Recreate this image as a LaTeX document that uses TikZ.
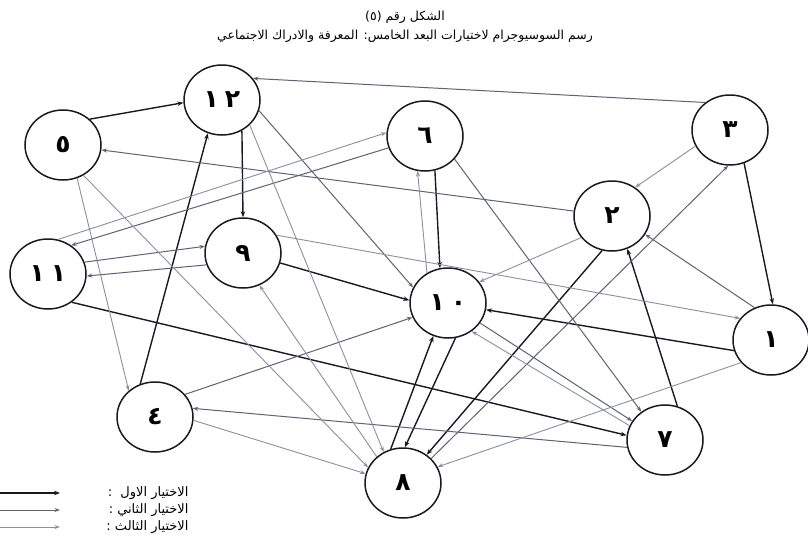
\documentclass[tikz,border=0pt]{standalone}
\usepackage{fontspec}
\TeXXeTstate=1
\newfontfamily\arabicfont[Script=Arabic]{DejaVu Sans}
\usetikzlibrary{arrows.meta,shapes.geometric}
\definecolor{inkfirst}{RGB}{25,25,35}
\definecolor{inksecond}{RGB}{95,98,115}
\definecolor{inkthird}{RGB}{140,143,160}
\tikzset{
 person/.style={ellipse, draw=inkfirst, line width=1.5pt, minimum width=76pt, minimum height=70pt, inner sep=0pt, font=\arabicfont\bfseries\fontsize{25}{25}\selectfont},
 firstch/.style={draw=inkfirst, line width=1.4pt, -{Stealth[length=6pt,width=4.5pt]}},
 secondch/.style={draw=inksecond, line width=1.0pt, -{Stealth[length=5.5pt,width=4pt]}},
 thirdch/.style={draw=inkthird, line width=0.9pt, -{Stealth[length=5.5pt,width=4pt]}},
 titletext/.style={font=\arabicfont\fontsize{12.5}{14}\selectfont},
 legendtext/.style={font=\arabicfont\fontsize{13}{15}\selectfont, anchor=east},
}
\begin{document}
\begin{tikzpicture}[x=1pt,y=-1pt]
\useasboundingbox[fill=white] (0,0) rectangle (808,554);
% titles
\node[titletext] (t1) at (405,17) {\beginR الشكل رقم \beginL(٥)\endL\endR};
\node[titletext] (t2) at (405,36) {\beginR رسم السوسيوجرام لاختيارات البعد الخامس: المعرفة والادراك الاجتماعي\endR};
% persons
\node[person] (n12) at (222,100) {١\kern6pt٢};
\node[person] (n5) at (63,145) {٥};
\node[person] (n6) at (425,136) {٦};
\node[person] (n3) at (730,130) {٣};
\node[person] (n2) at (612,216) {٢};
\node[person] (n9) at (243,253) {٩};
\node[person] (n11) at (48,274) {١\kern6pt١};
\node[person] (n10) at (448,303) {١\kern6pt٠};
\node[person] (n1) at (771,340) {١};
\node[person] (n4) at (155,417) {٤};
\node[person] (n7) at (665,440) {٧};
\node[person] (n8) at (403,483) {٨};
% first choices
\draw[firstch] (n5.44) -- (n12.184);
\draw[firstch] (n12.-57) -- (n9.90);
\draw[firstch] (n4.114) -- (n12.-113);
\draw[firstch] (n6.-74) -- (n10.103);
\draw[firstch] (n3.-67) -- (n1.87);
\draw[firstch] (n2.-106) -- (n8.50);
\draw[firstch] (n7.70) -- (n2.-65);
\draw[firstch] (n1.196) -- (n10.-10);
\draw[firstch] (n11.-50) -- (n7.173);
\draw[firstch] (n9.-15) -- (n10.176);
\draw[firstch] (n10.-78) -- (n8.87);
\draw[firstch] (n8.110) -- (n10.-114);
% second choices
\draw[secondch] (n3.132) -- (n12.35);
\draw[secondch] (n2) -- (n5);
\draw[secondch] (n12.-16) -- (n10.156);
\draw[secondch] (n6.-38) -- (n7.130);
\draw[secondch] (n8.41) -- (n3.-93);
\draw[secondch] (n11.18) -- (n9.170);
\draw[secondch] (n9.198) -- (n11.-3);
\draw[secondch] (n6.198) -- (n11.51);
\draw[secondch] (n7.191) -- (n4.13);
\draw[secondch] (n4.37) -- (n10.202);
\draw[secondch] (n10.-32) -- (n7.150);
\draw[secondch] (n1.117) -- (n2.-29);
% third choices
\draw[thirdch] (n12.-42) -- (n8.122);
\draw[thirdch] (n2.-145) -- (n10.34);
\draw[thirdch] (n11.74) -- (n6.175);
\draw[thirdch] (n9.28) -- (n1.145);
\draw[thirdch] (n7.158) -- (n10.-50);
\draw[thirdch] (n8.135) -- (n9.-63);
\draw[thirdch] (n5.-67) -- (n4.135);
\draw[thirdch] (n5.-56) -- (n8.156);
\draw[thirdch] (n4.-5) -- (n8.166);
\draw[thirdch] (n3.205) -- (n2.51);
\draw[thirdch] (n1.217) -- (n8.25);
\draw[thirdch] (n10.125) -- (n6.-102);
% legend
\coordinate (l1a) at (0,493); \coordinate (l1b) at (60,493);
\coordinate (l2a) at (0,510); \coordinate (l2b) at (60,510);
\coordinate (l3a) at (0,527); \coordinate (l3b) at (60,527);
\draw[firstch] (l1a) -- (l1b);
\draw[secondch] (l2a) -- (l2b);
\draw[thirdch] (l3a) -- (l3b);
\node[legendtext] (lg1) at (192,493) {\beginR الاختيار الاول \ :\endR};
\node[legendtext] (lg2) at (192,510) {\beginR الاختيار الثاني :\endR};
\node[legendtext] (lg3) at (192,527) {\beginR الاختيار الثالث :\endR};
\end{tikzpicture}
\end{document}
